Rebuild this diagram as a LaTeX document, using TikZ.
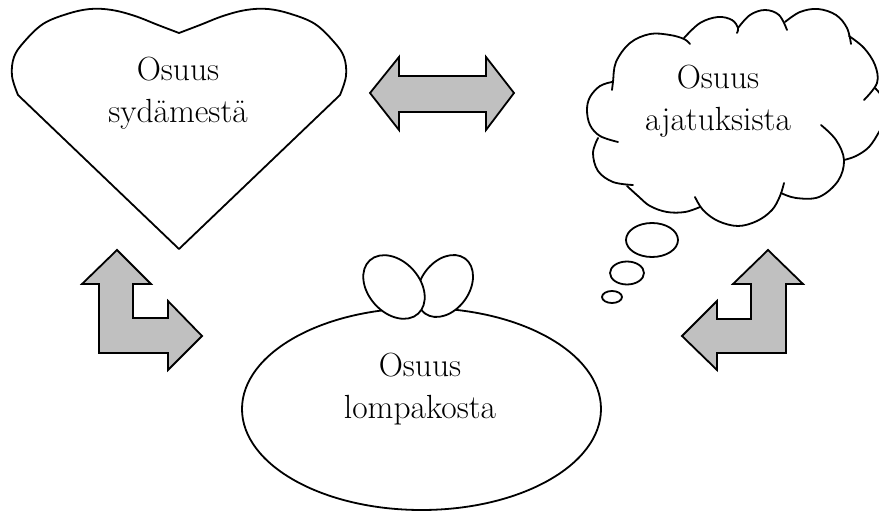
\documentclass[tikz,border=0pt]{standalone}
\usepackage{fontspec}
\definecolor{arrowgray}{HTML}{C0C0C0}
\begin{document}
\begin{tikzpicture}[x=1pt,y=-1pt,
  outline/.style={draw=black, line width=1.8pt, line join=round},
  blockarrow/.style={outline, fill=arrowgray, line join=miter},
  cloudarc/.style={draw=black, line width=1.8pt, line cap=round},
  shapetext/.style={font=\fontsize{33.5}{42}\selectfont, align=center, inner sep=0pt, anchor=north}]

\useasboundingbox (0,0) rectangle (879,513);

% heart
\draw[outline, fill=white] (179,249) -- (18,95)
  -- plot[smooth, tension=0.6] coordinates {(18,95) (12,76) (14,57) (24,42) (43,24) (67,14) (90,9) (112,10) (135,16) (158,25) (179,33)}
  -- plot[smooth, tension=0.6] coordinates {(179,33) (200,25) (223,16) (246,10) (268,9) (291,14) (315,24) (334,42) (344,57) (346,76) (340,95)}
  -- cycle;
\node[shapetext] (heartText) at (178,57) {Osuus\\sydämestä};

% double arrow between heart and cloud
\draw[blockarrow] (370,93) -- (399,57) -- (399,76) -- (486,76) -- (486,57) -- (514,93)
  -- (486,130) -- (486,112) -- (399,112) -- (399,130) -- cycle;

% thought cloud, one arc per bump
\draw[cloudarc] plot[smooth, tension=0.6] coordinates {(612,90) (613,82) (616,62) (630,43) (650,34) (670,35) (684,39) (690,44)};
\draw[cloudarc] plot[smooth, tension=0.6] coordinates {(684,38) (700,23) (718,17) (732,20) (738,28) (737,33)};
\draw[cloudarc] plot[smooth, tension=0.6] coordinates {(738,28) (750,15) (765,10) (779,15) (787,30)};
\draw[cloudarc] plot[smooth, tension=0.6] coordinates {(785,22) (800,12) (818,9) (836,15) (847,28) (851,44)};
\draw[cloudarc] plot[smooth, tension=0.6] coordinates {(849,36) (864,48) (875,65) (877,83) (864,100)};
\draw[cloudarc] plot[smooth, tension=0.6] coordinates {(875,88) (884,100) (886,118) (879,132) (869,147) (856,156) (844,160)};
\draw[cloudarc] plot[smooth, tension=0.6] coordinates {(821,125) (836,140) (844,160) (838,181) (819,197) (796,198) (781,193)};
\draw[cloudarc] plot[smooth, tension=0.6] coordinates {(784,183) (780,196) (772,210) (757,221) (738,226) (718,221) (703,210) (695,197)};
\draw[cloudarc] plot[smooth, tension=0.6] coordinates {(700,207) (685,212) (667,212) (650,206) (638,196) (627,186)};
\draw[cloudarc] plot[smooth, tension=0.6] coordinates {(598,138) (593,153) (598,171) (613,182) (633,185)};
\draw[cloudarc] plot[smooth, tension=0.6] coordinates {(612,82) (600,86) (590,97) (587,110) (590,125) (600,136) (618,142)};
\node[shapetext] (cloudText) at (718,65) {Osuus\\ajatuksista};

% thought bubbles
\draw[outline] (652,240) ellipse [x radius=26, y radius=17];
\draw[outline] (627,273) ellipse [x radius=17, y radius=11.5];
\draw[outline] (612,297) ellipse [x radius=10, y radius=6];

% bent arrow, left
\draw[blockarrow] (117,250) -- (151,284) -- (133,284) -- (133,318) -- (168,318) -- (168,301)
  -- (202,336) -- (168,370) -- (168,353) -- (99,353) -- (99,284) -- (82,284) -- cycle;

% bent arrow, right
\draw[blockarrow] (768,250) -- (803,284) -- (786,284) -- (786,353) -- (717,353) -- (717,370)
  -- (682,336) -- (717,301) -- (717,319) -- (751,319) -- (751,284) -- (733,284) -- cycle;

% wallet with two coins
\draw[outline, fill=white] (421.5,409) ellipse [x radius=179.5, y radius=101];
\draw[outline, fill=white, rotate around={-36:(445,286)}] (445,286) ellipse [x radius=24.3, y radius=34];
\draw[outline, fill=white, rotate around={42:(394,287)}] (394,287) ellipse [x radius=25.7, y radius=36];
\node[shapetext] (walletText) at (420,353) {Osuus\\lompakosta};

\end{tikzpicture}
\end{document}
